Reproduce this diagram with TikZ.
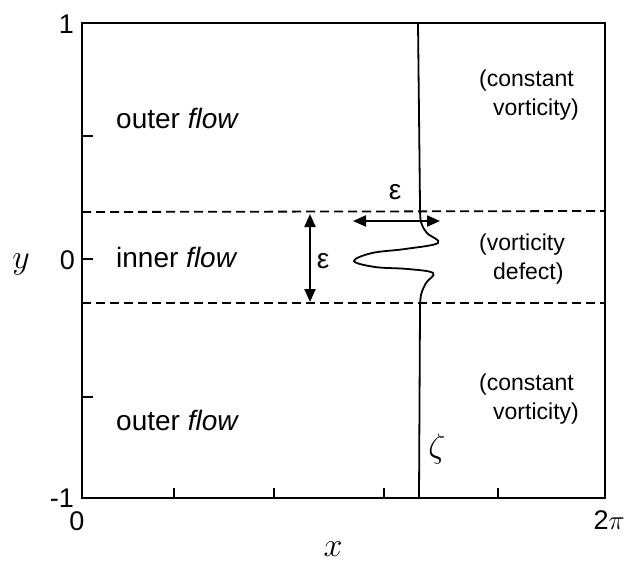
\documentclass[tikz,border=0pt]{standalone}
\usepackage{fix-cm}
\usepackage{fontspec}
\setmainfont{Liberation Sans}
\usetikzlibrary{arrows.meta}
\begin{document}
\begin{tikzpicture}[x=1pt, y=-1pt, every node/.style={inner sep=0pt}]
  \tikzstyle{region}=[font=\fontsize{28}{30}\selectfont, anchor=base west]
  \tikzstyle{note}=[font=\fontsize{23}{29}\selectfont, align=left, anchor=base west]
  \tikzstyle{ticklbl}=[font=\fontsize{27}{29}\selectfont]
  \tikzstyle{sym}=[font=\fontsize{34}{36}\selectfont]
  \tikzstyle{band}=[dash pattern=on 9pt off 5pt, line width=1.8pt]
  \tikzstyle{dbl}=[{Triangle[length=13pt,width=11pt]}-{Triangle[length=13pt,width=11pt]}, line width=2.2pt]
  \useasboundingbox (0,0) rectangle (628,566);
  % frame and ticks
  \coordinate (bl) at (82,498);
  \coordinate (tr) at (605,23);
  \draw[line width=2pt] (bl) rectangle (tr);
  \foreach \ty in {136,259,397} \draw[line width=2pt] (82,\ty) -- ++(11,0);
  \foreach \tx in {174,274,384,498} \draw[line width=2pt] (\tx,498) -- ++(0,-10);
  \node[ticklbl, anchor=east] (ytop) at (74,24) {1};
  \node[ticklbl, anchor=east] (ymid) at (75,260) {0};
  \node[ticklbl, anchor=east] (ybot) at (74,498) {-1};
  \node[ticklbl] (xleft) at (77,521) {0};
  \node[ticklbl] (xright) at (609,520) {2$\pi$};
  \node[sym] (ylab) at (21,264) {$y$};
  \node[sym] (xlab) at (333,549) {$x$};
  % inner layer edges
  \draw[band] (82,212) -- (605,211);
  \draw[band] (82,303) -- (605,303);
  % vorticity profile
  \draw[line width=1.8pt] (418,23) -- (420,205)
    -- plot[smooth, tension=0.6] coordinates {(420,205) (421,222) (427,233) (438,243)
       (405,249) (372,253) (354,261) (375,267) (408,269) (433,273) (426,283) (421,295) (420,310)}
    -- (419,498);
  \node[sym] (zeta) at (437,449) {$\zeta$};
  % widths
  \coordinate (vtop) at (310,214);
  \coordinate (vbot) at (310,302);
  \draw[dbl] (vtop) -- (vbot);
  \node[region, anchor=center] (epsv) at (323,261) {ε};
  \coordinate (hleft) at (353,221);
  \coordinate (hright) at (440,221);
  \draw[dbl] (hleft) -- (hright);
  \node[region, anchor=center] (epsh) at (395,192) {ε};
  % regions
  \node[region] (outertop) at (116,128) {outer \textit{flow}};
  \node[region] (inner) at (116,267) {inner \textit{flow}};
  \node[region] (outerbot) at (116,430) {outer \textit{flow}};
  \node[note] (consttop) at (479,115) {(constant\\\hspace*{14pt}vorticity)};
  \node[note] (defect) at (479,279) {(vorticity\\\hspace*{14pt}defect)};
  \node[note] (constbot) at (479,419) {(constant\\\hspace*{14pt}vorticity)};
\end{tikzpicture}
\end{document}
